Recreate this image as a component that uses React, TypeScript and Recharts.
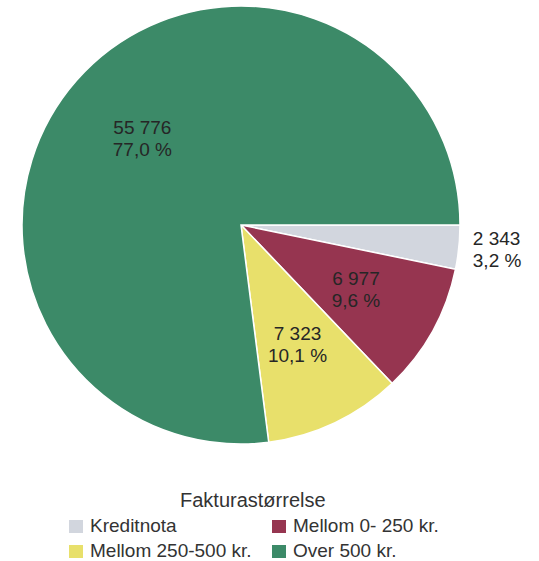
import { PieChart, Pie, Cell, Legend } from "recharts";

const categories = ["Kreditnota", "Mellom 0- 250 kr.", "Mellom 250-500 kr.", "Over 500 kr."];
const counts = [2343, 6977, 7323, 55776];
const pctLabels = ["3,2 %", "9,6 %", "10,1 %", "77,0 %"];
const countLabels = ["2 343", "6 977", "7 323", "55 776"];
const colors = ["#d2d6de", "#963550", "#e8e06b", "#3c8a68"];
const legendTitle = "Fakturastørrelse";

const data = categories.map((name, i) => ({ name, value: counts[i] }));

const FONT = "'Liberation Sans', Arial, sans-serif";
const RAD = Math.PI / 180;

const renderLabel = ({ cx, cy, midAngle, outerRadius, index }: any) => {
  const outside = index === 0;
  const r = outside ? outerRadius + 14 : outerRadius * 0.6;
  const x = cx + r * Math.cos(-midAngle * RAD);
  const y = cy + r * Math.sin(-midAngle * RAD);
  return (
    <text
      x={x}
      y={y}
      textAnchor={outside ? "start" : "middle"}
      fontSize={19}
      fontFamily={FONT}
      fill="#262626"
    >
      <tspan x={x} dy={-4}>{countLabels[index]}</tspan>
      <tspan x={x} dy={22}>{pctLabels[index]}</tspan>
    </text>
  );
};

const LegendBox = () => (
  <div style={{ fontFamily: FONT, color: "#333", position: "relative", height: 81 }}>
    <div style={{ position: "absolute", left: 180, top: 9, fontSize: 20, lineHeight: "22px" }}>
      {legendTitle}
    </div>
    {categories.map((c, i) => (
      <div
        key={c}
        style={{
          position: "absolute",
          left: i % 2 === 0 ? 69 : 272,
          top: i < 2 ? 35 : 60,
          display: "flex",
          alignItems: "center",
          fontSize: 19,
          lineHeight: "22px",
          whiteSpace: "nowrap",
        }}
      >
        <span
          style={{ display: "inline-block", width: 14, height: 13, background: colors[i], marginRight: 7 }}
        />
        {c}
      </div>
    ))}
  </div>
);

export default function App() {
  return (
    <div style={{ position: "absolute", left: 0, top: 0, background: "#fff" }}>
      <PieChart width={539} height={561} margin={{ top: 0, right: 0, bottom: 0, left: 0 }}>
        <Pie
          data={data}
          dataKey="value"
          nameKey="name"
          cx={241}
          cy={225}
          outerRadius={219}
          startAngle={0}
          endAngle={-360}
          stroke="#fff"
          strokeWidth={1.5}
          label={renderLabel}
          labelLine={false}
          isAnimationActive={false}
        >
          {data.map((_, i) => (
            <Cell key={i} fill={colors[i]} />
          ))}
        </Pie>
        <Legend
          content={<LegendBox />}
          wrapperStyle={{ position: "absolute", left: 0, top: 480, width: 539, height: 81 }}
        />
      </PieChart>
    </div>
  );
}
